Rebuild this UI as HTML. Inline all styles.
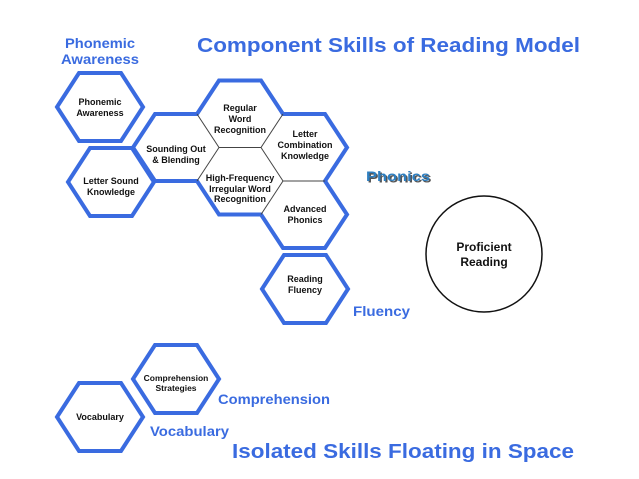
<!DOCTYPE html>
<html><head><meta charset="utf-8"><style>
html,body{margin:0;padding:0;background:#fff;}
svg{display:block;}
text{font-family:"Liberation Sans",Arial,sans-serif;font-weight:bold;}
.b{fill:#3a6be0;}
.s{fill:#111;font-size:9px;text-anchor:middle;}
</style></head><body>
<svg width="639" height="479" viewBox="0 0 639 479" xmlns="http://www.w3.org/2000/svg">
<rect width="639" height="479" fill="#fff"/>
<g fill="#fff" stroke="#3a6be0" stroke-width="4" stroke-linejoin="miter">
<polygon points="57,107 79,73 121,73 143,107 121,141 79,141"/>
<polygon points="68,182 90,148 132,148 154,182 132,216 90,216"/>
<polygon points="133,147.5 155,114 197,114 219,80.5 261,80.5 283,114 325,114 347,147.5 325,181 347,214.5 325,248 283,248 261,214.5 219,214.5 197,181 155,181"/>
<polygon points="262,289 284,255 326,255 348,289 326,323 284,323"/>
<polygon points="133,379 155,345 197,345 219,379 197,413 155,413"/>
<polygon points="57,417 79,383 121,383 143,417 121,451 79,451"/>
</g>
<g stroke="#444" stroke-width="1">
<line x1="197" y1="114" x2="219" y2="147.5"/>
<line x1="219" y1="147.5" x2="197" y2="181"/>
<line x1="219" y1="147.5" x2="261" y2="147.5"/>
<line x1="261" y1="147.5" x2="283" y2="114"/>
<line x1="261" y1="147.5" x2="283" y2="181"/>
<line x1="283" y1="181" x2="261" y2="214.5"/>
<line x1="283" y1="181" x2="325" y2="181"/>
</g>
<circle cx="484" cy="254" r="58" fill="#fff" stroke="#111" stroke-width="1.5"/>
<text class="s" x="100" y="105">Phonemic</text><text class="s" x="100" y="116">Awareness</text>
<text class="s" x="111" y="184">Letter Sound</text><text class="s" x="111" y="195">Knowledge</text>
<text class="s" x="176" y="152">Sounding Out</text><text class="s" x="176" y="163">&amp; Blending</text>
<text class="s" x="240" y="111">Regular</text><text class="s" x="240" y="122">Word</text><text class="s" x="240" y="133">Recognition</text>
<text class="s" x="305" y="137">Letter</text><text class="s" x="305" y="148">Combination</text><text class="s" x="305" y="159">Knowledge</text>
<text class="s" x="240" y="181">High-Frequency</text><text class="s" x="240" y="192">Irregular Word</text><text class="s" x="240" y="202">Recognition</text>
<text class="s" x="305" y="212">Advanced</text><text class="s" x="305" y="223">Phonics</text>
<text class="s" x="305" y="282">Reading</text><text class="s" x="305" y="293">Fluency</text>
<text class="s" x="176" y="381" style="font-size:8.5px">Comprehension</text><text class="s" x="176" y="391" style="font-size:8.5px">Strategies</text>
<text class="s" x="100" y="420">Vocabulary</text>
<text x="484" y="251" style="font-size:12px;text-anchor:middle;fill:#111">Proficient</text>
<text x="484" y="266" style="font-size:12px;text-anchor:middle;fill:#111">Reading</text>
<text class="b" x="197" y="52" style="font-size:20px" textLength="383" lengthAdjust="spacingAndGlyphs">Component Skills of Reading Model</text>
<text class="b" x="65" y="48" style="font-size:14px" textLength="70" lengthAdjust="spacingAndGlyphs">Phonemic</text>
<text class="b" x="61" y="64" style="font-size:14px" textLength="78" lengthAdjust="spacingAndGlyphs">Awareness</text>
<text x="367.5" y="182.5" style="font-size:14px;fill:#555" textLength="64" lengthAdjust="spacingAndGlyphs">Phonics</text>
<text x="366" y="181" style="font-size:14px;fill:#2f7fc0" textLength="64" lengthAdjust="spacingAndGlyphs">Phonics</text>
<text class="b" x="353" y="316" style="font-size:14px" textLength="57" lengthAdjust="spacingAndGlyphs">Fluency</text>
<text class="b" x="218" y="404" style="font-size:14px" textLength="112" lengthAdjust="spacingAndGlyphs">Comprehension</text>
<text class="b" x="150" y="436" style="font-size:14px" textLength="79" lengthAdjust="spacingAndGlyphs">Vocabulary</text>
<text class="b" x="232" y="458" style="font-size:20px" textLength="342" lengthAdjust="spacingAndGlyphs">Isolated Skills Floating in Space</text>
</svg>
</body></html>
